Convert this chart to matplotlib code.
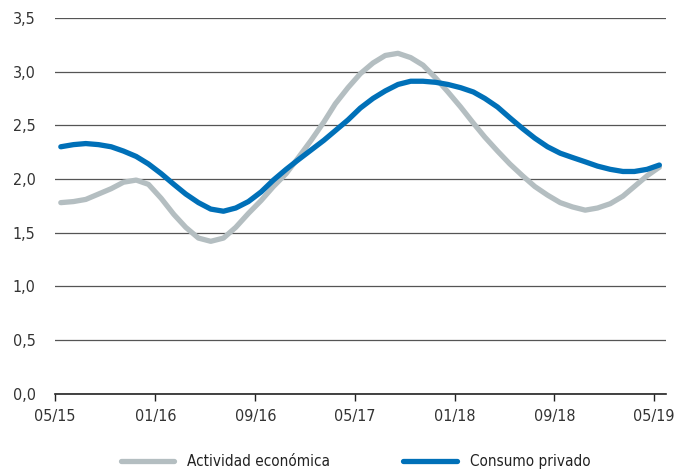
import pandas as pd
import matplotlib
matplotlib.use('Agg')
import matplotlib.pyplot as plt
from matplotlib.ticker import FuncFormatter, MultipleLocator

plt.rcParams['font.family'] = ['DejaVu Sans']
plt.rcParams['font.stretch'] = 'condensed'

# serie mensual 05/15 - 05/19
meses = pd.date_range('2015-05-01', '2019-05-01', freq='MS') + pd.Timedelta(days=14)

actividad = [1.78, 1.79, 1.81, 1.86, 1.91, 1.97, 1.99, 1.95, 1.82, 1.67,
             1.55, 1.45, 1.42, 1.45, 1.55, 1.68, 1.80, 1.93, 2.05, 2.20,
             2.36, 2.53, 2.70, 2.85, 2.98, 3.08, 3.15, 3.17, 3.13, 3.06,
             2.94, 2.81, 2.67, 2.52, 2.39, 2.26, 2.14, 2.03, 1.93, 1.85,
             1.78, 1.74, 1.71, 1.73, 1.77, 1.84, 1.93, 2.03, 2.11]

consumo = [2.30, 2.32, 2.33, 2.32, 2.30, 2.26, 2.21, 2.14, 2.05, 1.95,
           1.86, 1.78, 1.72, 1.70, 1.73, 1.79, 1.88, 1.99, 2.09, 2.18,
           2.27, 2.36, 2.45, 2.55, 2.66, 2.75, 2.82, 2.88, 2.91, 2.91,
           2.90, 2.88, 2.85, 2.81, 2.75, 2.67, 2.57, 2.47, 2.38, 2.30,
           2.24, 2.20, 2.16, 2.12, 2.09, 2.07, 2.07, 2.09, 2.13]

tick_fechas = pd.date_range('2015-05-01', '2019-05-01', freq='8MS')
tick_labels = [d.strftime('%m/%y') for d in tick_fechas]

fig = plt.figure(figsize=(6.97, 4.70), dpi=100)
ax = fig.add_axes([0.079, 0.162, 0.877, 0.800])

ax.plot(meses, actividad, color='#b4bec1', lw=3.8, solid_capstyle='round',
        label='Actividad económica', zorder=3)
ax.plot(meses, consumo, color='#0070b8', lw=3.8, solid_capstyle='round',
        label='Consumo privado', zorder=4)

ax.set_ylim(0, 3.5)
ax.yaxis.set_major_locator(MultipleLocator(0.5))
ax.yaxis.set_major_formatter(FuncFormatter(lambda v, p: f'{v:.1f}'.replace('.', ',')))
ax.grid(axis='y', color='#555555', lw=0.9)
ax.set_axisbelow(True)

ax.set_xlim(pd.Timestamp('2015-05-01'), pd.Timestamp('2019-06-01'))
ax.set_xticks(tick_fechas)
ax.set_xticklabels(tick_labels)

for s in ['left', 'right', 'top']:
    ax.spines[s].set_visible(False)
ax.spines['bottom'].set_color('#222222')
ax.spines['bottom'].set_linewidth(1.2)
ax.tick_params(axis='y', length=0, pad=14, labelsize=11.5, labelcolor='#333333')
ax.tick_params(axis='x', direction='out', length=5, width=1, color='#222222',
               pad=6, labelsize=11.5, labelcolor='#333333')

fig.legend(loc='lower center', bbox_to_anchor=(0.51, -0.028), ncol=2, frameon=False,
           fontsize=11, handlelength=3.5, columnspacing=4.8, handletextpad=0.85,
           labelcolor='#222222')

fig.savefig('out.png', dpi=100)
